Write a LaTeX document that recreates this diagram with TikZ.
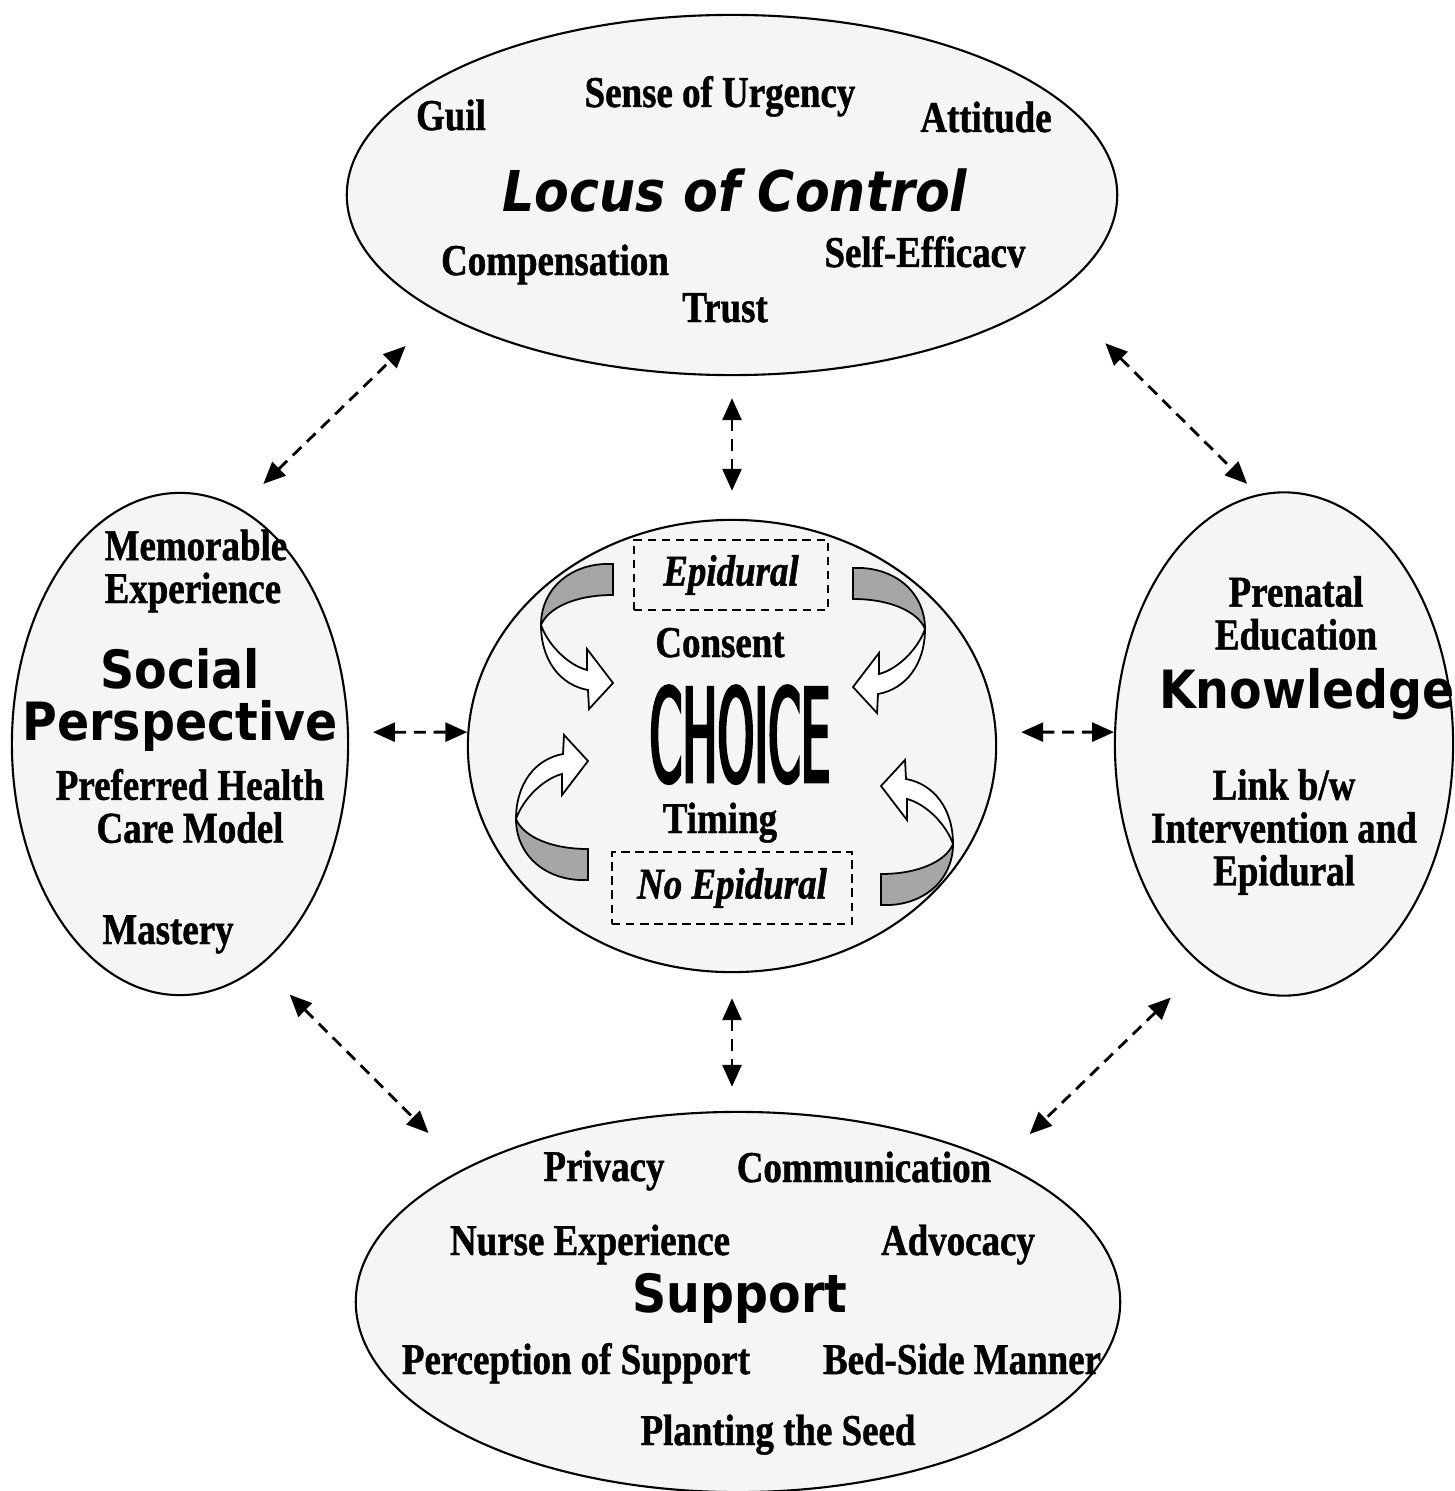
\documentclass[tikz,border=0pt]{standalone}
\usepackage{fontspec}
\usetikzlibrary{shapes.geometric, arrows.meta, positioning, calc}

\newfontfamily\lbl{Liberation Serif}[FakeStretch=0.84, FakeBold=1]
\newfontfamily\ttl{DejaVu Sans}[FakeStretch=0.9]
\newfontfamily\chc{DejaVu Sans}[FakeStretch=0.36, FakeBold=2]

\tikzset{
    ring/.style={ellipse, draw, line width=0.6pt, fill=black!4, inner sep=0pt},
    factor/.style={font=\lbl\bfseries\fontsize{12.5}{12.2}\selectfont, inner sep=0pt, anchor=base, align=center},
    theme/.style={font=\ttl\bfseries\fontsize{15}{14.8}\selectfont, inner sep=0pt, anchor=base, align=center},
    option/.style={draw, dash pattern=on 2.4pt off 1.6pt, line width=0.5pt, inner sep=0pt},
    link/.style={line width=0.8pt, dash pattern=on 3.4pt off 2.2pt, {Triangle[length=2.2mm,width=1.9mm]}-{Triangle[length=2.2mm,width=1.9mm]}},
    swirl/.pic={
        % back of the ribbon
        \draw[line width=0.5pt, fill=black!35] (36,-72) .. controls (-5,-74) and (-36,-48) .. (-36,-11)
            .. controls (-29,-28) and (-2,-41) .. (36,-41) -- cycle;
        % front of the ribbon with its head
        \draw[line width=0.5pt, fill=white] (-36,-11) .. controls (-36,24) and (-17,49) .. (11,54)
            -- (12,73) -- (36,47) -- (10,13) -- (10,34)
            .. controls (-9,29) and (-29,9) .. (-36,-11) -- cycle;
    }
}

\begin{document}
\begin{tikzpicture}[x=0.01cm, y=-0.01cm]
    \useasboundingbox (0,0) rectangle (1455,1491);

    % Ellissi
    \node[ring, minimum width=7.70cm, minimum height=3.60cm] (loc) at (732,195) {};
    \node[ring, minimum width=3.36cm, minimum height=5.02cm] (soc) at (180,744) {};
    \node[ring, minimum width=5.28cm, minimum height=4.52cm] (cho) at (732,746) {};
    \node[ring, minimum width=3.38cm, minimum height=5.03cm] (kno) at (1284,744) {};
    \node[ring, minimum width=7.64cm, minimum height=3.80cm] (sup) at (738,1302) {};

    % Frecce curve attorno a CHOICE
    \pic at (577,636) {swirl};
    \pic[xscale=-1] at (889,640) {swirl};
    \pic[yscale=-1] at (552,808) {swirl};
    \pic[xscale=-1, yscale=-1] at (917,833) {swirl};

    % Locus of Control
    \node[factor] (guil) at (451,130) {Guil};
    \node[factor] (urg) at (720,107) {Sense of Urgency};
    \node[factor] (att) at (986,132) {Attitude};
    \node[theme, font=\ttl\bfseries\fontsize{16}{16}\selectfont] (loctitle) at (735,212) {\itshape Locus of Control};
    \node[factor] (comp) at (555,275) {Compensation};
    \node[factor] (eff) at (925,267) {Self-Efficacv};
    \node[factor] (trust) at (725,322) {Trust};

    % Social Perspective
    \node[factor, anchor=west, align=left] (mem) at (104,571) {Memorable\\Experience};
    \node[theme, anchor=center] (soctitle) at (180,700) {Social\\Perspective};
    \node[factor, anchor=center] (pref) at (190,806) {Preferred Health\\Care Model};
    \node[factor] (mast) at (168,944) {Mastery};

    % Knowledge
    \node[factor, anchor=center] (pren) at (1296,613) {Prenatal\\Education};
    \node[theme] (knotitle) at (1307,708) {Knowledge};
    \node[factor, anchor=center] (lnk) at (1284,832) {Link b/w\\Intervention and\\Epidural};

    % Choice
    \node[option, factor, anchor=center, minimum width=1.94cm, minimum height=0.70cm] (epi) at (731,575) {\itshape Epidural};
    \node[factor] (cons) at (720,657) {Consent};
    \node[inner sep=0pt, anchor=base, font=\chc\fontsize{37}{37}\selectfont] (choice) at (740,782) {CHOICE};
    \node[factor] (tim) at (720,833) {Timing};
    \node[option, factor, anchor=center, minimum width=2.40cm, minimum height=0.72cm] (noepi) at (732,888) {\itshape No Epidural};

    % Support
    \node[factor] (priv) at (604,1181) {Privacy};
    \node[factor] (comm) at (864,1182) {Communication};
    \node[factor] (nurse) at (590,1255) {Nurse Experience};
    \node[factor] (adv) at (958,1255) {Advocacy};
    \node[theme] (suptitle) at (740,1312) {Support};
    \node[factor] (perc) at (576,1374) {Perception of Support};
    \node[factor] (bed) at (962,1374) {Bed-Side Manner};
    \node[factor] (seed) at (778,1445) {Planting the Seed};

    % Collegamenti
    \draw[link, shorten <=0.34cm, shorten >=0.47cm] (soc.76) -- (loc.202);
    \draw[link, shorten <=0.70cm, shorten >=0.15cm] (loc.343) -- (kno.96.5);
    \draw[link, shorten <=0.22cm, shorten >=0.28cm] (loc.south) -- (cho.north);
    \draw[link, shorten <=0.24cm] (soc.4) -- (cho.177);
    \draw[link, shorten <=0.245cm] (cho.3) -- (kno.176);
    \draw[link, shorten <=0.25cm, shorten >=0.24cm] (cho.south) -- (cho.south |- sup.north);
    \draw[link, shorten <=0.41cm, shorten >=0.50cm] (soc.-70) -- (sup.154);
    \draw[link, shorten <=0.45cm, shorten >=0.41cm] (kno.250) -- (sup.28);
\end{tikzpicture}
\end{document}
